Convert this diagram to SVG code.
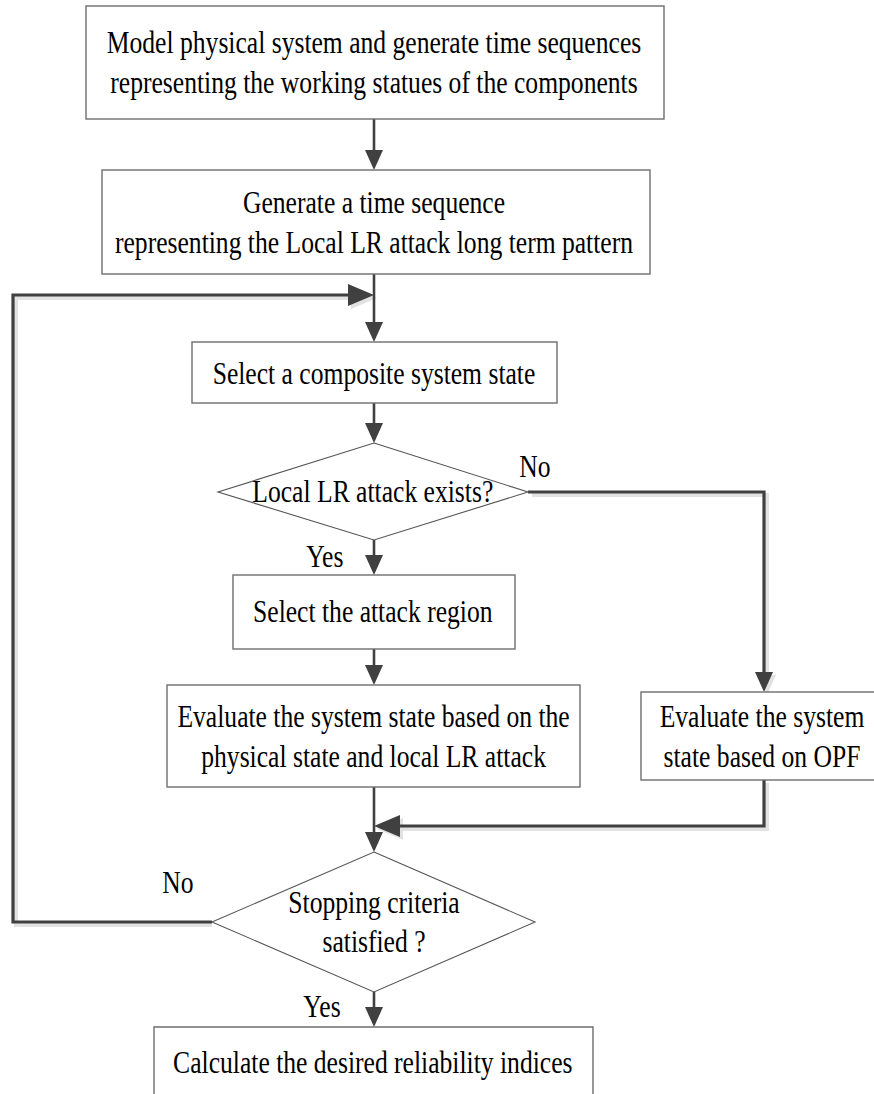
<svg xmlns="http://www.w3.org/2000/svg" width="874" height="1094" viewBox="0 0 874 1094">
<style>
.box{fill:#fff;stroke:#6e6e6e;stroke-width:1.4}
.dia{fill:#fff;stroke:#555;stroke-width:1.1}
.t{font-family:'Liberation Serif','DejaVu Serif','Times New Roman',Times,serif;font-size:32px;fill:#000;text-anchor:middle}
.ln{fill:none;stroke:#404040;stroke-width:2.6}
.thk{fill:none;stroke:#404040;stroke-width:3.2}
.sh{fill:none;stroke:#e2e2e2;stroke-width:4}
</style>
<defs>
<marker id="a" markerUnits="userSpaceOnUse" markerWidth="22" markerHeight="20" refX="12" refY="9" orient="auto"><path d="M0,0 L20,9 L0,18 z" fill="#404040"/></marker>
<marker id="b" markerUnits="userSpaceOnUse" markerWidth="28" markerHeight="24" refX="18" refY="11" orient="auto"><path d="M0,0 L26,11 L0,22 z" fill="#404040"/></marker>
<marker id="bs" markerUnits="userSpaceOnUse" markerWidth="28" markerHeight="24" refX="18" refY="11" orient="auto"><path d="M0,0 L26,11 L0,22 z" fill="#e2e2e2"/></marker>
<marker id="as" markerUnits="userSpaceOnUse" markerWidth="22" markerHeight="20" refX="12" refY="9" orient="auto"><path d="M0,0 L20,9 L0,18 z" fill="#e2e2e2"/></marker>
</defs>

<g id="connectors">
  <path class="sh" d="M212,925 L16,925 L16,298 L369,298" marker-end="url(#bs)"/>
  <path class="sh" d="M532,495 L767,495 L767,687" marker-end="url(#as)"/>
  <path class="sh" d="M767,783 L767,829 L385,829" marker-end="url(#bs)"/>
  <path class="ln" d="M374,119 L374,162" marker-end="url(#a)"/>
  <path class="ln" d="M374,274 L374,334" marker-end="url(#a)"/>
  <path class="thk" d="M212,922 L13,922 L13,295 L366,295" marker-end="url(#b)"/>
  <path class="ln" d="M374,403 L374,435" marker-end="url(#a)"/>
  <path class="thk" d="M528,492 L764,492 L764,684" marker-end="url(#a)"/>
  <path class="ln" d="M374,540 L374,567" marker-end="url(#a)"/>
  <path class="ln" d="M374,649 L374,677" marker-end="url(#a)"/>
  <path class="ln" d="M374,787 L374,844" marker-end="url(#a)"/>
  <path class="thk" d="M764,780 L764,826 L382,826" marker-end="url(#b)"/>
  <path class="ln" d="M374,992 L374,1019" marker-end="url(#a)"/>
</g>

<g font-family="Liberation Serif, serif">
<g id="n1">
  <rect class="box" x="86" y="6" width="578" height="113"/>
  <text class="t" transform="scale(0.8,1)" x="467.5" y="53">Model physical system and generate time sequences</text>
  <text class="t" transform="scale(0.8,1)" x="467.5" y="93">representing the working statues of the components</text>
</g>
<g id="n2">
  <rect class="box" x="102" y="170" width="548" height="104"/>
  <text class="t" transform="scale(0.8,1)" x="467.5" y="213">Generate a time sequence</text>
  <text class="t" transform="scale(0.8,1)" x="467.5" y="253">representing the Local LR attack long term pattern</text>
</g>
<g id="n3">
  <rect class="box" x="192" y="342" width="365" height="61"/>
  <text class="t" transform="scale(0.8,1)" x="467.5" y="384">Select a composite system state</text>
</g>
<g id="n4">
  <polygon class="dia" points="374,443 528,492 374,540 218,492"/>
  <text class="t" transform="scale(0.8,1)" x="466" y="502">Local LR attack exists?</text>
</g>
<g id="n5">
  <rect class="box" x="233" y="575" width="282" height="74"/>
  <text class="t" transform="scale(0.8,1)" x="466" y="622">Select the attack region</text>
</g>
<g id="n6">
  <rect class="box" x="167" y="685" width="413" height="102"/>
  <text class="t" transform="scale(0.8,1)" x="467" y="727">Evaluate the system state based on the</text>
  <text class="t" transform="scale(0.8,1)" x="467" y="767">physical state and local LR attack</text>
</g>
<g id="n7">
  <rect class="box" x="641" y="692" width="240" height="88"/>
  <text class="t" transform="scale(0.8,1)" x="952.5" y="727">Evaluate the system</text>
  <text class="t" transform="scale(0.8,1)" x="952.5" y="767">state based on OPF</text>
</g>
<g id="n8">
  <polygon class="dia" points="374,852 535,922 374,992 212,922"/>
  <text class="t" transform="scale(0.8,1)" x="467.5" y="913">Stopping criteria</text>
  <text class="t" transform="scale(0.8,1)" x="467.5" y="952">satisfied ?</text>
</g>
<g id="n9">
  <path class="box" d="M154,1100 L154,1027 L593,1027 L593,1100"/>
  <text class="t" transform="scale(0.8,1)" x="466" y="1073">Calculate the desired reliability indices</text>
</g>
<g id="labels">
  <text class="t" transform="scale(0.8,1)" x="668.75" y="477">No</text>
  <text class="t" transform="scale(0.8,1)" x="406" y="567">Yes</text>
  <text class="t" transform="scale(0.8,1)" x="222.5" y="893">No</text>
  <text class="t" transform="scale(0.8,1)" x="402.5" y="1017">Yes</text>
</g>
</g>
</svg>
